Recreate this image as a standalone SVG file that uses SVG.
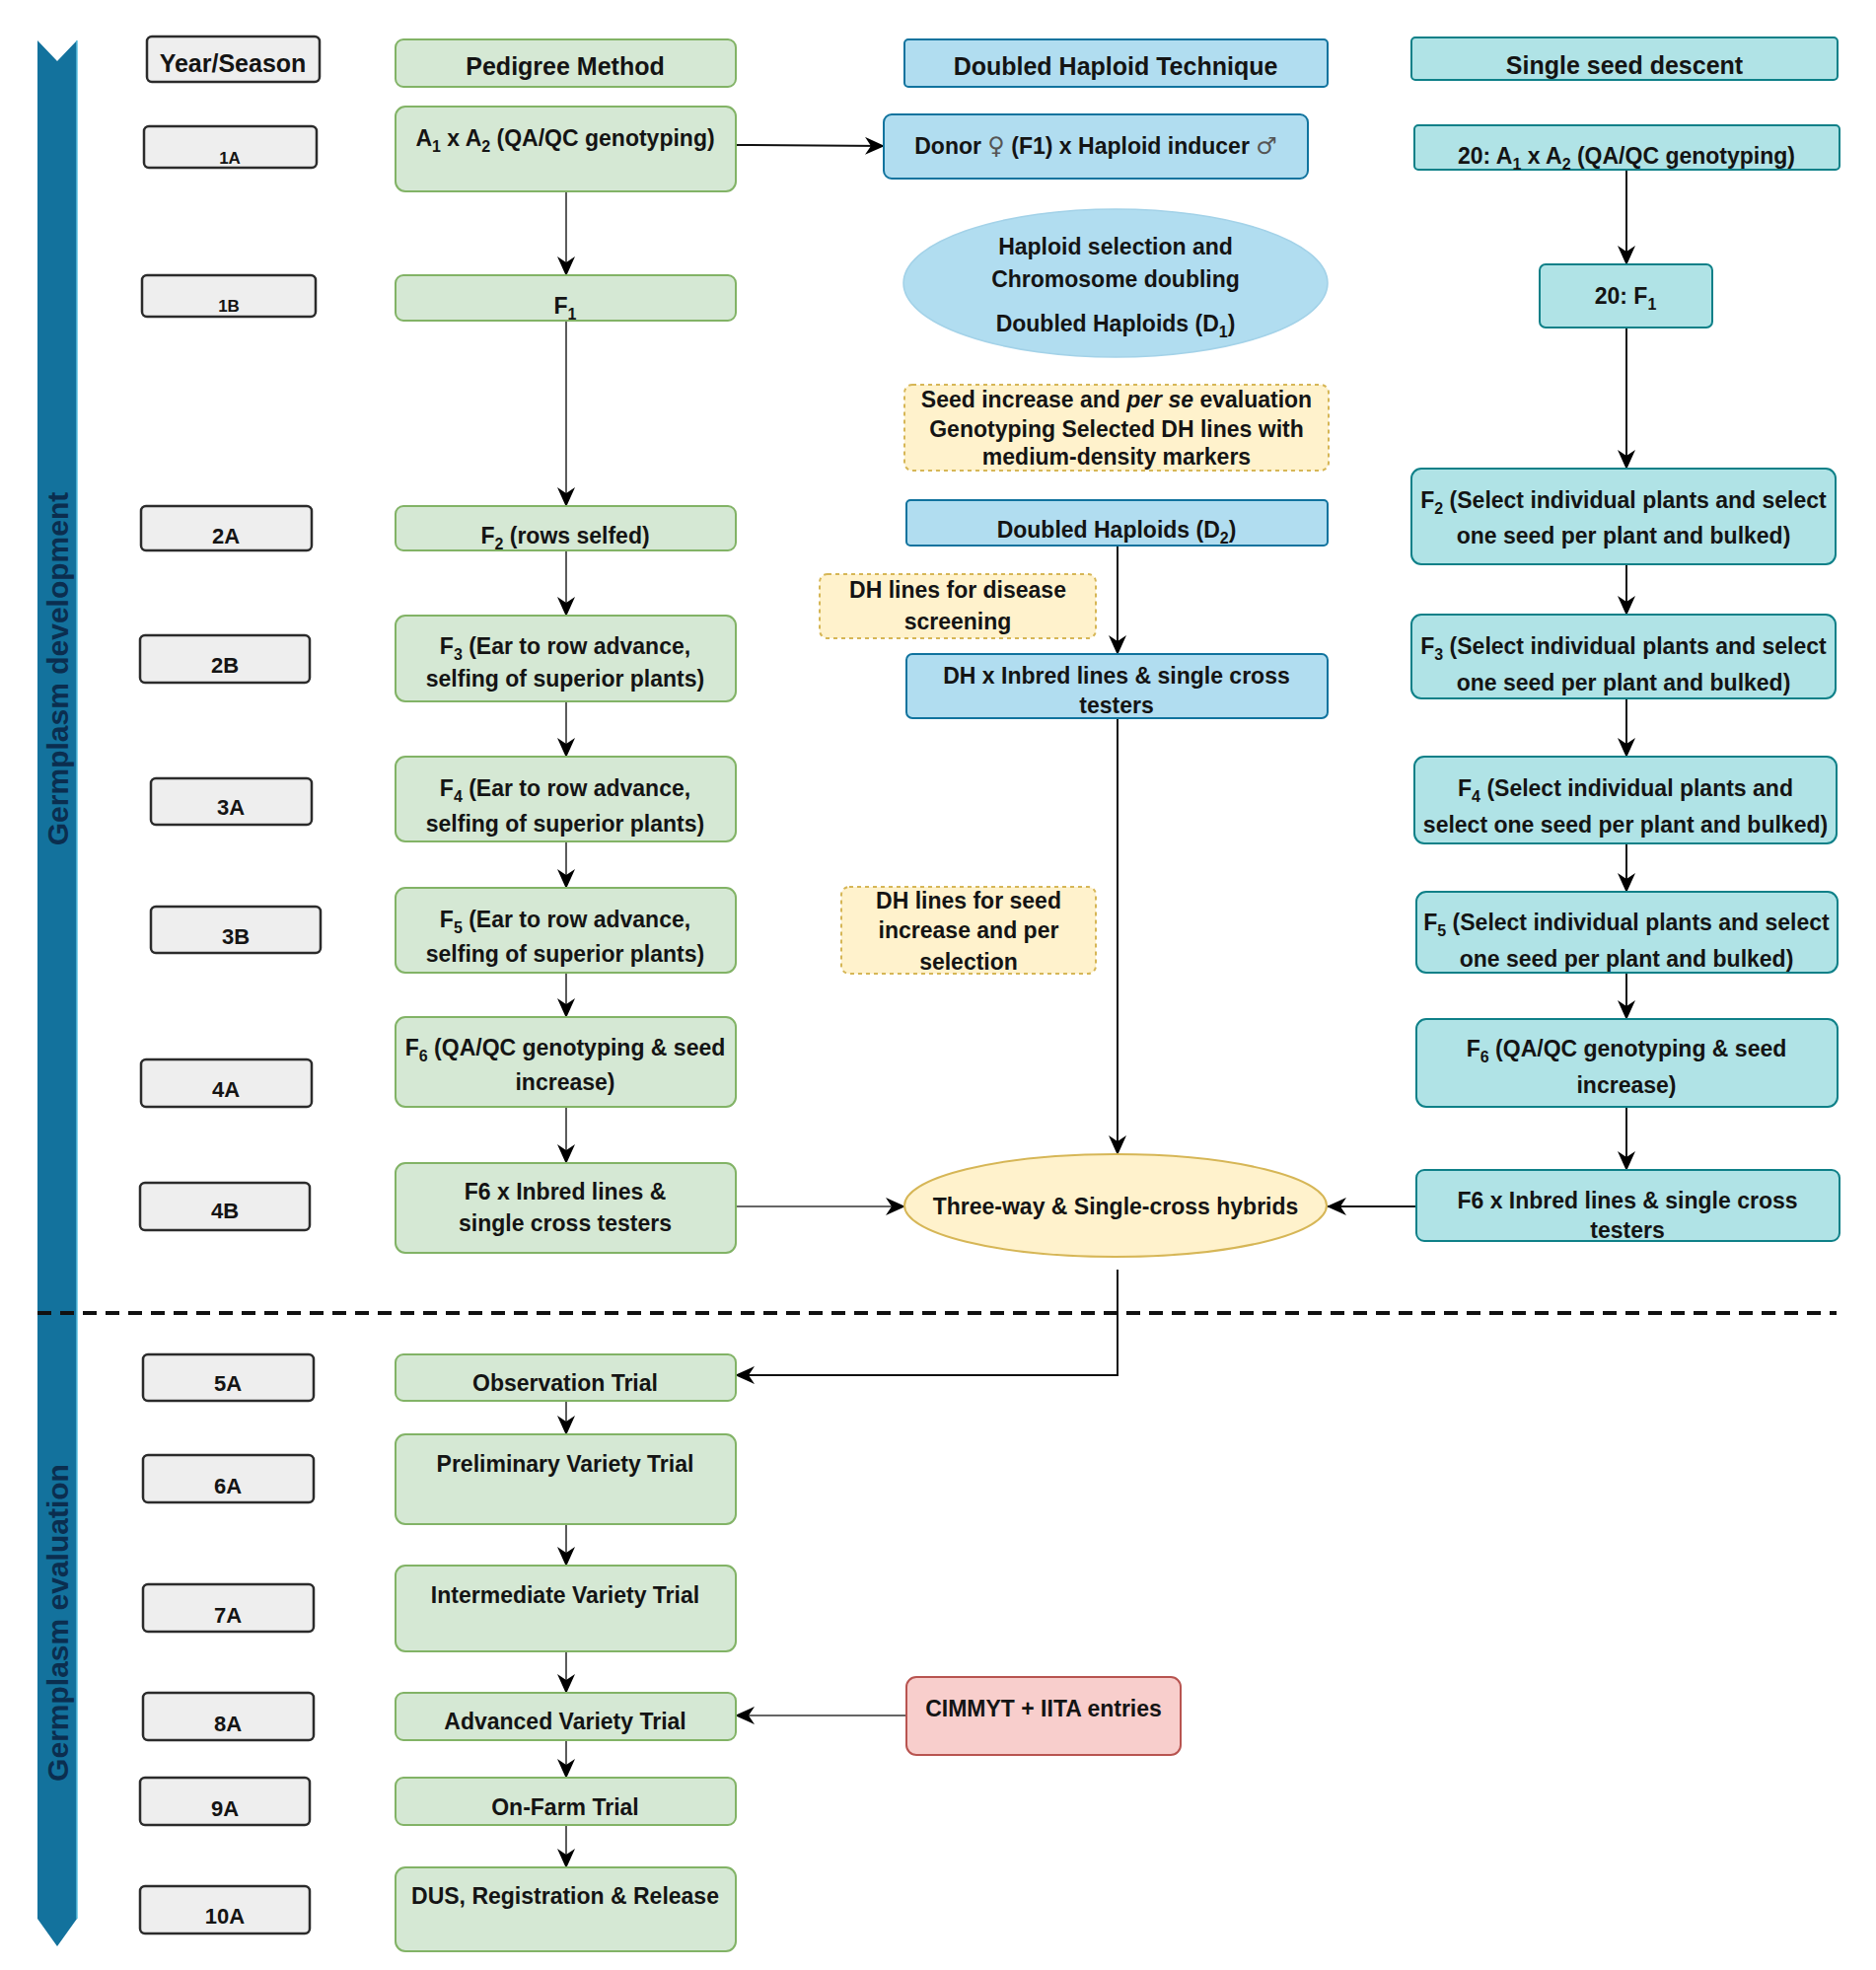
<svg xmlns="http://www.w3.org/2000/svg" width="1902" height="1997" viewBox="0 0 1902 1997">
<style>
.yr{fill:#eeeeee;stroke:#2b2b2b;stroke-width:2.5}
.g{fill:#d5e8d4;stroke:#82b366;stroke-width:2}
.b{fill:#b1ddf0;stroke:#10739e;stroke-width:2}
.s{fill:#b0e3e6;stroke:#0e8088;stroke-width:2}
.y{fill:#fff2cc;stroke:#d6b656;stroke-width:2;stroke-dasharray:4 4}
.r{fill:#f8cecc;stroke:#b85450;stroke-width:2}
text{font-family:"Liberation Sans",Arial,sans-serif;font-weight:bold;fill:#141414;text-anchor:middle}
.t{font-size:23px}
.h{font-size:25px}
.l{font-size:22px}
.sm{font-size:17px}
.sym{font-family:"DejaVu Sans",sans-serif;font-weight:normal;font-size:24px;fill:#555}
.bar{font-size:30px;fill:#0b2e4f}
.c{fill:none;stroke:#111;stroke-width:2}
.cg{fill:none;stroke:#333;stroke-width:1.6}
</style>
<defs>
<marker id="arr" markerUnits="userSpaceOnUse" markerWidth="20" markerHeight="18" viewBox="0 0 20 18" refX="19" refY="9" orient="auto">
<path d="M0,0 L20,9 L0,18 L6,9 z" fill="#000"/>
</marker>
</defs>
<rect width="1902" height="1997" fill="#ffffff"/>

<g id="phase-bar">
<polygon points="38,41 58,62 78,41 78,1945 58,1973 38,1945" fill="#13729d"/>
<line x1="78" y1="41" x2="78" y2="1945" stroke="#5cc0e0" stroke-width="1.5"/>
<text class="bar" transform="translate(69,678) rotate(-90)">Germplasm development</text>
<text class="bar" transform="translate(69,1645) rotate(-90)">Germplasm evaluation</text>
</g>
<line id="phase-divider" x1="38" y1="1331" x2="1862" y2="1331" stroke="#111" stroke-width="4" stroke-dasharray="14 9"/>

<g id="connectors">
<line class="cg" x1="574" y1="194" x2="574" y2="279" marker-end="url(#arr)"/>
<line class="cg" x1="574" y1="325" x2="574" y2="513" marker-end="url(#arr)"/>
<line class="cg" x1="574" y1="558" x2="574" y2="624" marker-end="url(#arr)"/>
<line class="cg" x1="574" y1="711" x2="574" y2="767" marker-end="url(#arr)"/>
<line class="cg" x1="574" y1="853" x2="574" y2="900" marker-end="url(#arr)"/>
<line class="cg" x1="574" y1="986" x2="574" y2="1031" marker-end="url(#arr)"/>
<line class="cg" x1="574" y1="1122" x2="574" y2="1179" marker-end="url(#arr)"/>
<line class="cg" x1="574" y1="1420" x2="574" y2="1454" marker-end="url(#arr)"/>
<line class="cg" x1="574" y1="1545" x2="574" y2="1587" marker-end="url(#arr)"/>
<line class="cg" x1="574" y1="1674" x2="574" y2="1716" marker-end="url(#arr)"/>
<line class="cg" x1="574" y1="1764" x2="574" y2="1802" marker-end="url(#arr)"/>
<line class="cg" x1="574" y1="1850" x2="574" y2="1893" marker-end="url(#arr)"/>
<line class="c" x1="746" y1="147" x2="896" y2="148" marker-end="url(#arr)"/>
<line class="c" x1="1649" y1="172" x2="1649" y2="268" marker-end="url(#arr)"/>
<line class="c" x1="1649" y1="332" x2="1649" y2="475" marker-end="url(#arr)"/>
<line class="c" x1="1649" y1="572" x2="1649" y2="623" marker-end="url(#arr)"/>
<line class="c" x1="1649" y1="708" x2="1649" y2="767" marker-end="url(#arr)"/>
<line class="c" x1="1649" y1="855" x2="1649" y2="904" marker-end="url(#arr)"/>
<line class="c" x1="1649" y1="986" x2="1649" y2="1033" marker-end="url(#arr)"/>
<line class="c" x1="1649" y1="1122" x2="1649" y2="1186" marker-end="url(#arr)"/>
<line class="c" x1="1133" y1="553" x2="1133" y2="663" marker-end="url(#arr)"/>
<line class="c" x1="1133" y1="728" x2="1133" y2="1170" marker-end="url(#arr)"/>
<line class="cg" x1="746" y1="1223" x2="917" y2="1223" marker-end="url(#arr)"/>
<line class="c" x1="1436" y1="1223" x2="1346" y2="1223" marker-end="url(#arr)"/>
<path class="c" d="M1133,1287 V1394 H746" marker-end="url(#arr)"/>
<line class="cg" x1="919" y1="1739" x2="746" y2="1739" marker-end="url(#arr)"/>
</g>

<g id="y-header"><rect class="yr" x="149" y="37" width="175" height="46" rx="5"/><text class="h" x="236" y="73">Year/Season</text></g>
<g id="y-1A"><rect class="yr" x="146" y="128" width="175" height="42" rx="5"/><text class="sm" x="233" y="166">1A</text></g>
<g id="y-1B"><rect class="yr" x="144" y="279" width="176" height="42" rx="5"/><text class="sm" x="232" y="316">1B</text></g>
<g id="y-2A"><rect class="yr" x="143" y="513" width="173" height="45" rx="5"/><text class="l" x="229" y="551">2A</text></g>
<g id="y-2B"><rect class="yr" x="142" y="644" width="172" height="48" rx="5"/><text class="l" x="228" y="682">2B</text></g>
<g id="y-3A"><rect class="yr" x="153" y="789" width="163" height="47" rx="5"/><text class="l" x="234" y="826">3A</text></g>
<g id="y-3B"><rect class="yr" x="153" y="919" width="172" height="47" rx="5"/><text class="l" x="239" y="957">3B</text></g>
<g id="y-4A"><rect class="yr" x="143" y="1074" width="173" height="48" rx="5"/><text class="l" x="229" y="1112">4A</text></g>
<g id="y-4B"><rect class="yr" x="142" y="1199" width="172" height="48" rx="5"/><text class="l" x="228" y="1235">4B</text></g>
<g id="y-5A"><rect class="yr" x="145" y="1373" width="173" height="47" rx="5"/><text class="l" x="231" y="1410">5A</text></g>
<g id="y-6A"><rect class="yr" x="145" y="1475" width="173" height="48" rx="5"/><text class="l" x="231" y="1514">6A</text></g>
<g id="y-7A"><rect class="yr" x="145" y="1606" width="173" height="48" rx="5"/><text class="l" x="231" y="1645">7A</text></g>
<g id="y-8A"><rect class="yr" x="145" y="1716" width="173" height="48" rx="5"/><text class="l" x="231" y="1755">8A</text></g>
<g id="y-9A"><rect class="yr" x="142" y="1802" width="172" height="48" rx="5"/><text class="l" x="228" y="1841">9A</text></g>
<g id="y-10A"><rect class="yr" x="142" y="1912" width="172" height="48" rx="5"/><text class="l" x="228" y="1950">10A</text></g>

<g id="p-header"><rect class="g" x="401" y="40" width="345" height="48" rx="8"/><text class="h" x="573" y="76">Pedigree Method</text></g>
<g id="p-cross"><rect class="g" x="401" y="108" width="345" height="86" rx="10"/><text class="t" x="573" y="148">A<tspan font-size="16" dy="6">1</tspan><tspan dy="-6"> x A</tspan><tspan font-size="16" dy="6">2</tspan><tspan dy="-6"> (QA/QC genotyping)</tspan></text></g>
<g id="p-F1"><rect class="g" x="401" y="279" width="345" height="46" rx="8"/><text class="t" x="573" y="318">F<tspan font-size="16" dy="6">1</tspan></text></g>
<g id="p-F2"><rect class="g" x="401" y="513" width="345" height="45" rx="8"/><text class="t" x="573" y="551">F<tspan font-size="16" dy="6">2</tspan><tspan dy="-6"> (rows selfed)</tspan></text></g>
<g id="p-F3"><rect class="g" x="401" y="624" width="345" height="87" rx="10"/><text class="t" x="573" y="663">F<tspan font-size="16" dy="6">3</tspan><tspan dy="-6">  (Ear to row advance,</tspan></text><text class="t" x="573" y="696">selfing of superior plants)</text></g>
<g id="p-F4"><rect class="g" x="401" y="767" width="345" height="86" rx="10"/><text class="t" x="573" y="807">F<tspan font-size="16" dy="6">4</tspan><tspan dy="-6"> (Ear to row advance,</tspan></text><text class="t" x="573" y="843">selfing of superior plants)</text></g>
<g id="p-F5"><rect class="g" x="401" y="900" width="345" height="86" rx="10"/><text class="t" x="573" y="940">F<tspan font-size="16" dy="6">5</tspan><tspan dy="-6"> (Ear to row advance,</tspan></text><text class="t" x="573" y="975">selfing of superior plants)</text></g>
<g id="p-F6"><rect class="g" x="401" y="1031" width="345" height="91" rx="10"/><text class="t" x="573" y="1070">F<tspan font-size="16" dy="6">6</tspan><tspan dy="-6"> (QA/QC genotyping &amp; seed</tspan></text><text class="t" x="573" y="1105">increase)</text></g>
<g id="p-testcross"><rect class="g" x="401" y="1179" width="345" height="91" rx="10"/><text class="t" x="573" y="1216">F6 x Inbred lines &amp;</text><text class="t" x="573" y="1248">single cross testers</text></g>
<g id="p-observation"><rect class="g" x="401" y="1373" width="345" height="47" rx="8"/><text class="t" x="573" y="1410">Observation Trial</text></g>
<g id="p-preliminary"><rect class="g" x="401" y="1454" width="345" height="91" rx="10"/><text class="t" x="573" y="1492">Preliminary Variety Trial</text></g>
<g id="p-intermediate"><rect class="g" x="401" y="1587" width="345" height="87" rx="10"/><text class="t" x="573" y="1625">Intermediate Variety Trial</text></g>
<g id="p-advanced"><rect class="g" x="401" y="1716" width="345" height="48" rx="8"/><text class="t" x="573" y="1753">Advanced Variety Trial</text></g>
<g id="p-onfarm"><rect class="g" x="401" y="1802" width="345" height="48" rx="8"/><text class="t" x="573" y="1840">On-Farm Trial</text></g>
<g id="p-dus"><rect class="g" x="401" y="1893" width="345" height="85" rx="10"/><text class="t" x="573" y="1930">DUS, Registration &amp; Release</text></g>

<g id="dh-header"><rect class="b" x="917" y="40" width="429" height="48" rx="4"/><text class="h" x="1131" y="76">Doubled Haploid Technique</text></g>
<g id="dh-donor"><rect class="b" x="896" y="116" width="430" height="65" rx="8"/><text class="t" x="1111" y="156">Donor <tspan class="sym">♀</tspan> (F1) x Haploid inducer <tspan class="sym">♂</tspan></text></g>
<g id="dh-selection"><ellipse cx="1131" cy="287" rx="215" ry="75" fill="#b1ddf0" stroke="#a3d2e8" stroke-width="1.5"/><text class="t" x="1131" y="258">Haploid selection and</text><text class="t" x="1131" y="291">Chromosome doubling</text><text class="t" x="1131" y="336">Doubled Haploids (D<tspan font-size="16" dy="6">1</tspan><tspan dy="-6">)</tspan></text></g>
<g id="dh-seed-eval"><rect class="y" x="917" y="390" width="430" height="87" rx="8"/><text class="t" x="1132" y="413">Seed increase and <tspan font-style="italic">per se</tspan> evaluation</text><text class="t" x="1132" y="443">Genotyping Selected DH lines with</text><text class="t" x="1132" y="471">medium-density markers</text></g>
<g id="dh-D2"><rect class="b" x="919" y="507" width="427" height="46" rx="4"/><text class="t" x="1132" y="545">Doubled Haploids (D<tspan font-size="16" dy="6">2</tspan><tspan dy="-6">)</tspan></text></g>
<g id="dh-disease"><rect class="y" x="831" y="582" width="280" height="65" rx="8"/><text class="t" x="971" y="606">DH lines for disease</text><text class="t" x="971" y="638">screening</text></g>
<g id="dh-testcross"><rect class="b" x="919" y="663" width="427" height="65" rx="6"/><text class="t" x="1132" y="693">DH x Inbred lines &amp; single cross</text><text class="t" x="1132" y="723">testers</text></g>
<g id="dh-seed"><rect class="y" x="853" y="899" width="258" height="88" rx="8"/><text class="t" x="982" y="921">DH lines for seed</text><text class="t" x="982" y="951">increase and per</text><text class="t" x="982" y="983">selection</text></g>
<g id="hybrids"><ellipse cx="1131" cy="1222" rx="214" ry="52" fill="#fff2cc" stroke="#d6b656" stroke-width="2"/><text class="t" x="1131" y="1231">Three-way &amp; Single-cross hybrids</text></g>
<g id="cimmyt"><rect class="r" x="919" y="1700" width="278" height="79" rx="10"/><text class="t" x="1058" y="1740">CIMMYT + IITA entries</text></g>

<g id="ssd-header"><rect class="s" x="1431" y="38" width="432" height="43" rx="4"/><text class="h" x="1647" y="75">Single seed descent</text></g>
<g id="ssd-cross"><rect class="s" x="1434" y="127" width="431" height="45" rx="4"/><text class="t" x="1649" y="166">20: A<tspan font-size="16" dy="6">1</tspan><tspan dy="-6"> x A</tspan><tspan font-size="16" dy="6">2</tspan><tspan dy="-6"> (QA/QC genotyping)</tspan></text></g>
<g id="ssd-F1"><rect class="s" x="1561" y="268" width="175" height="64" rx="6"/><text class="t" x="1648" y="308">20: F<tspan font-size="16" dy="6">1</tspan></text></g>
<g id="ssd-F2"><rect class="s" x="1431" y="475" width="430" height="97" rx="10"/><text class="t" x="1646" y="515">F<tspan font-size="16" dy="6">2</tspan><tspan dy="-6"> (Select individual plants and select</tspan></text><text class="t" x="1646" y="551">one seed per plant and bulked)</text></g>
<g id="ssd-F3"><rect class="s" x="1431" y="623" width="430" height="85" rx="10"/><text class="t" x="1646" y="663">F<tspan font-size="16" dy="6">3</tspan><tspan dy="-6"> (Select individual plants and select</tspan></text><text class="t" x="1646" y="700">one seed per plant and bulked)</text></g>
<g id="ssd-F4"><rect class="s" x="1434" y="767" width="428" height="88" rx="10"/><text class="t" x="1648" y="807">F<tspan font-size="16" dy="6">4</tspan><tspan dy="-6"> (Select individual plants and</tspan></text><text class="t" x="1648" y="844">select one seed per plant and bulked)</text></g>
<g id="ssd-F5"><rect class="s" x="1436" y="904" width="427" height="82" rx="10"/><text class="t" x="1649" y="943">F<tspan font-size="16" dy="6">5</tspan><tspan dy="-6"> (Select individual plants and select</tspan></text><text class="t" x="1649" y="980">one seed per plant and bulked)</text></g>
<g id="ssd-F6"><rect class="s" x="1436" y="1033" width="427" height="89" rx="10"/><text class="t" x="1649" y="1071">F<tspan font-size="16" dy="6">6</tspan><tspan dy="-6"> (QA/QC genotyping &amp; seed</tspan></text><text class="t" x="1649" y="1108">increase)</text></g>
<g id="ssd-testcross"><rect class="s" x="1436" y="1186" width="429" height="72" rx="8"/><text class="t" x="1650" y="1225">F6 x Inbred lines &amp; single cross</text><text class="t" x="1650" y="1255">testers</text></g>
</svg>
